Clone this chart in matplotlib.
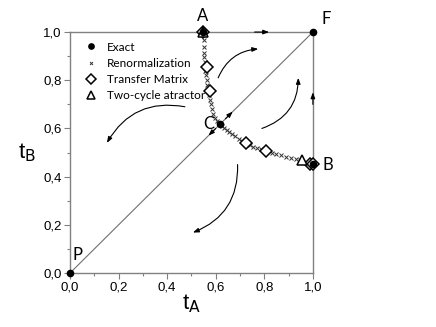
import matplotlib
matplotlib.use("Agg")
import matplotlib.pyplot as plt
from matplotlib.patches import FancyArrowPatch
from matplotlib.ticker import MultipleLocator, FuncFormatter

# Fixed points (Exact)
exact_x = [0.0, 0.547, 0.618, 1.0, 1.0]
exact_y = [0.0, 1.0, 0.618, 0.452, 1.0]

# Renormalization
renorm_x = [0.550, 0.551, 0.552, 0.553, 0.555, 0.557, 0.559, 0.562, 0.565, 0.568,
            0.572, 0.575, 0.579, 0.584, 0.590, 0.597, 0.605, 0.612,
            0.625, 0.635, 0.645, 0.656, 0.668, 0.680, 0.695, 0.710, 0.740, 0.755,
            0.770, 0.785, 0.830, 0.850, 0.870, 0.890, 0.910, 0.930, 0.945, 0.970, 0.985]
renorm_y = [0.965, 0.940, 0.915, 0.895, 0.875, 0.840, 0.820, 0.800, 0.780, 0.760,
            0.740, 0.720, 0.700, 0.680, 0.660, 0.645, 0.632, 0.624,
            0.612, 0.602, 0.594, 0.586, 0.578, 0.568, 0.558, 0.549, 0.533, 0.525,
            0.519, 0.513, 0.500, 0.494, 0.488, 0.482, 0.477, 0.473, 0.470, 0.462, 0.457]

# Transfer matrix
tm_x = [0.547, 0.564, 0.576, 0.724, 0.807, 0.990, 1.0]
tm_y = [1.0, 0.855, 0.755, 0.540, 0.506, 0.454, 0.452]

# Two-cycle attractor
tc_x = [0.547, 0.955]
tc_y = [1.0, 0.469]

# Point labels
labels = ["A", "F", "C", "B", "P"]
label_x = [0.547, 1.055, 0.572, 1.06, 0.03]
label_y = [1.065, 1.055, 0.62, 0.45, 0.075]

ticks = [0.0, 0.2, 0.4, 0.6, 0.8, 1.0]

fig = plt.figure(figsize=(4.36, 3.27), dpi=100)
ax = fig.add_axes([0.1606, 0.165, 0.557, 0.737])
ax.set_xlim(0, 1)
ax.set_ylim(0, 1)

gray = "#808080"
for s in ax.spines.values():
    s.set_color(gray)
    s.set_linewidth(1.0)

# diagonal
ax.plot([0, 1], [0, 1], color="#707070", lw=0.8, zorder=1)

ax.plot(renorm_x, renorm_y, linestyle="none", marker="x", ms=2.5, mew=0.7,
        color="#333333", label="Renormalization", zorder=3)
ax.plot(tm_x, tm_y, linestyle="none", marker="D", ms=6, mfc="white", mec="black",
        mew=1.1, label="Transfer Matrix", zorder=4, clip_on=False)
ax.plot(tc_x, tc_y, linestyle="none", marker="^", ms=6.5, mfc="white", mec="black",
        mew=1.1, label="Two-cycle atractor", zorder=4, clip_on=False)
ax.plot(exact_x, exact_y, linestyle="none", marker="o", ms=4.5, color="black",
        label="Exact", zorder=5, clip_on=False)

def arrow(p0, p1, rad):
    a = FancyArrowPatch(p0, p1, connectionstyle=f"arc3,rad={rad}",
                        arrowstyle="-|>,head_length=3.5,head_width=1.3",
                        lw=0.8, color="black", zorder=6, shrinkA=0, shrinkB=0)
    a.set_clip_on(False)
    ax.add_patch(a)

# curved flow arrows
arrow((0.473, 0.69), (0.152, 0.54), 0.35)
arrow((0.61, 0.81), (0.775, 0.93), -0.3)
arrow((0.79, 0.60), (0.94, 0.81), 0.35)
arrow((0.69, 0.45), (0.506, 0.168), -0.35)
# straight arrows on edges / diagonal
arrow((0.76, 1.0), (0.82, 1.0), 0.0)
arrow((1.0, 0.70), (1.0, 0.75), 0.0)
arrow((0.64, 0.64), (0.67, 0.67), 0.0)
arrow((0.60, 0.60), (0.57, 0.57), 0.0)

for t, x, y in zip(labels, label_x, label_y):
    ax.text(x, y, t, fontsize=12, family="Lato", ha="center", va="center",
            clip_on=False)

ax.set_xticks(ticks)
ax.set_yticks(ticks)
fmt = FuncFormatter(lambda v, p: f"{v:.1f}".replace(".", ","))
ax.xaxis.set_major_formatter(fmt)
ax.yaxis.set_major_formatter(fmt)
ax.xaxis.set_minor_locator(MultipleLocator(0.1))
ax.yaxis.set_minor_locator(MultipleLocator(0.1))
ax.tick_params(which="major", direction="out", length=4, width=0.8, color=gray,
               labelsize=9.5, pad=2)
ax.tick_params(which="minor", direction="out", length=2.5, width=0.8, color=gray)
for lab in ax.get_xticklabels() + ax.get_yticklabels():
    lab.set_family("Liberation Sans")

ax.set_xlabel(r"t$_{\mathsf{A}}$", fontsize=16, family="Liberation Sans", labelpad=-1)
ax.set_ylabel(r"t$_{\mathsf{B}}$", fontsize=16, family="Liberation Sans", rotation=0,
              labelpad=12, va="center")

h, l = ax.get_legend_handles_labels()
order = [3, 0, 1, 2]
ax.legend([h[i] for i in order], [l[i] for i in order], loc="upper left",
          frameon=False, prop={"family": "Lato", "size": 8.5}, handletextpad=0.6,
          handlelength=1.5, borderaxespad=0.2, labelspacing=0.45, markerscale=0.85,
          bbox_to_anchor=(0.02, 0.99))

fig.savefig("out.png", dpi=100)
